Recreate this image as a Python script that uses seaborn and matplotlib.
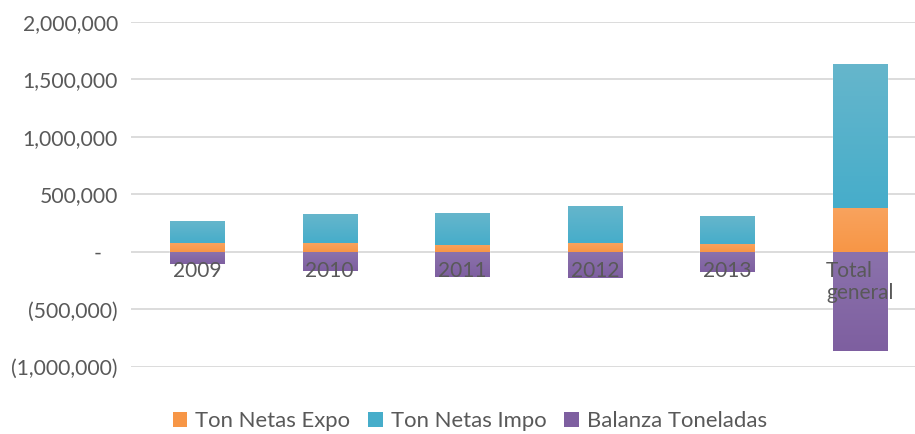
import numpy as np
import pandas as pd
import matplotlib
matplotlib.use("Agg")
import matplotlib.pyplot as plt
import matplotlib.colors as mcolors
from matplotlib.patches import Patch
import seaborn as sns

categories = ["2009", "2010", "2011", "2012", "2013", "Total general"]
cat_labels = ["2009", "2010", "2011", "2012", "2013", "Total\ngeneral"]
expo = [78000, 78000, 61000, 78000, 72000, 383000]
impo = [191000, 252000, 278000, 322000, 241000, 1252000]
balanza = [-102000, -163000, -215000, -226000, -171000, -858000]
series_names = ["Ton Netas Expo", "Ton Netas Impo", "Balanza Toneladas"]
yticks = [-1000000, -500000, 0, 500000, 1000000, 1500000, 2000000]

sns.set_theme(style="white")
plt.rcParams["font.family"] = ["Lato", "DejaVu Sans"]

TXT = "#595959"
colors = {
    "expo": ("#F9A35E", "#F79646"),   # (top, bottom)
    "impo": ("#66B6CC", "#46ADCA"),
    "bal": ("#8B72AC", "#7E5FA0"),
}

fig = plt.figure(figsize=(9.15, 4.34), dpi=100)
W, H = 915, 434
ax = fig.add_axes([131 / W, 1 - 367 / H, (915 - 131) / W, (367 - 22) / H])

df = pd.DataFrame({"cat": categories, "expo": expo, "impo": impo, "bal": balanza})

bw = 0.41
sns.barplot(data=df, x="cat", y="expo", color=colors["expo"][1], width=bw,
            saturation=1, ax=ax, zorder=3)
sns.barplot(data=df, x="cat", y="impo", bottom=df["expo"], color=colors["impo"][1],
            width=bw, saturation=1, ax=ax, zorder=3)
sns.barplot(data=df, x="cat", y="bal", color=colors["bal"][1], width=bw,
            saturation=1, ax=ax, zorder=3)

# gradient overlays
groups = ["expo"] * 6 + ["impo"] * 6 + ["bal"] * 6
patches = [p for p in ax.patches]
for p, g in zip(patches, groups):
    top, bot = colors[g]
    ct = np.array(mcolors.to_rgb(top))
    cb = np.array(mcolors.to_rgb(bot))
    t = np.linspace(0, 1, 128)[:, None]
    grad = (cb[None, :] * (1 - t) + ct[None, :] * t)[:, None, :]
    x0, y0 = p.get_x(), p.get_y()
    w, h = p.get_width(), p.get_height()
    ylo, yhi = min(y0, y0 + h), max(y0, y0 + h)
    im = ax.imshow(grad, extent=[x0, x0 + w, ylo, yhi], origin="lower",
                   aspect="auto", zorder=3.5, interpolation="bilinear")
    im.set_clip_path(p)

ax.set_xlim(-0.5, -0.5 + (915 - 131) / 132.5)
ax.set_ylim(-1000000, 2000000)
ax.set_yticks(yticks)

def fmt(v):
    if v == 0:
        return "-   "
    if v < 0:
        return "({:,})".format(-v)
    return "{:,}".format(v)

ax.set_yticklabels([fmt(v) for v in yticks])
ax.grid(axis="y", color="#D9D9D9", linewidth=1.3, zorder=0)
ax.set_axisbelow(True)
for s in ax.spines.values():
    s.set_visible(False)
ax.tick_params(axis="y", length=0, pad=9.5, labelsize=15.2, labelcolor=TXT)
ax.tick_params(axis="x", length=0, labelbottom=False)
ax.set_xlabel("")
ax.set_ylabel("")

for i, lab in enumerate(cat_labels):
    ax.annotate(lab, xy=(i, 0), xytext=(0, -9), textcoords="offset pixels",
                ha="center", va="top", fontsize=15, color=TXT,
                multialignment="left", linespacing=1.1, zorder=5)

handles = [Patch(facecolor=colors["expo"][1], edgecolor="none"),
           Patch(facecolor=colors["impo"][1], edgecolor="none"),
           Patch(facecolor=colors["bal"][1], edgecolor="none")]
fig.legend(handles, series_names, loc="center", bbox_to_anchor=(470 / W, 1 - 421 / H),
           ncol=3, frameon=False, fontsize=15.9, labelcolor=TXT,
           handlelength=0.65, handleheight=0.7, handletextpad=0.38, columnspacing=0.8)

fig.savefig("out.png", dpi=100)
